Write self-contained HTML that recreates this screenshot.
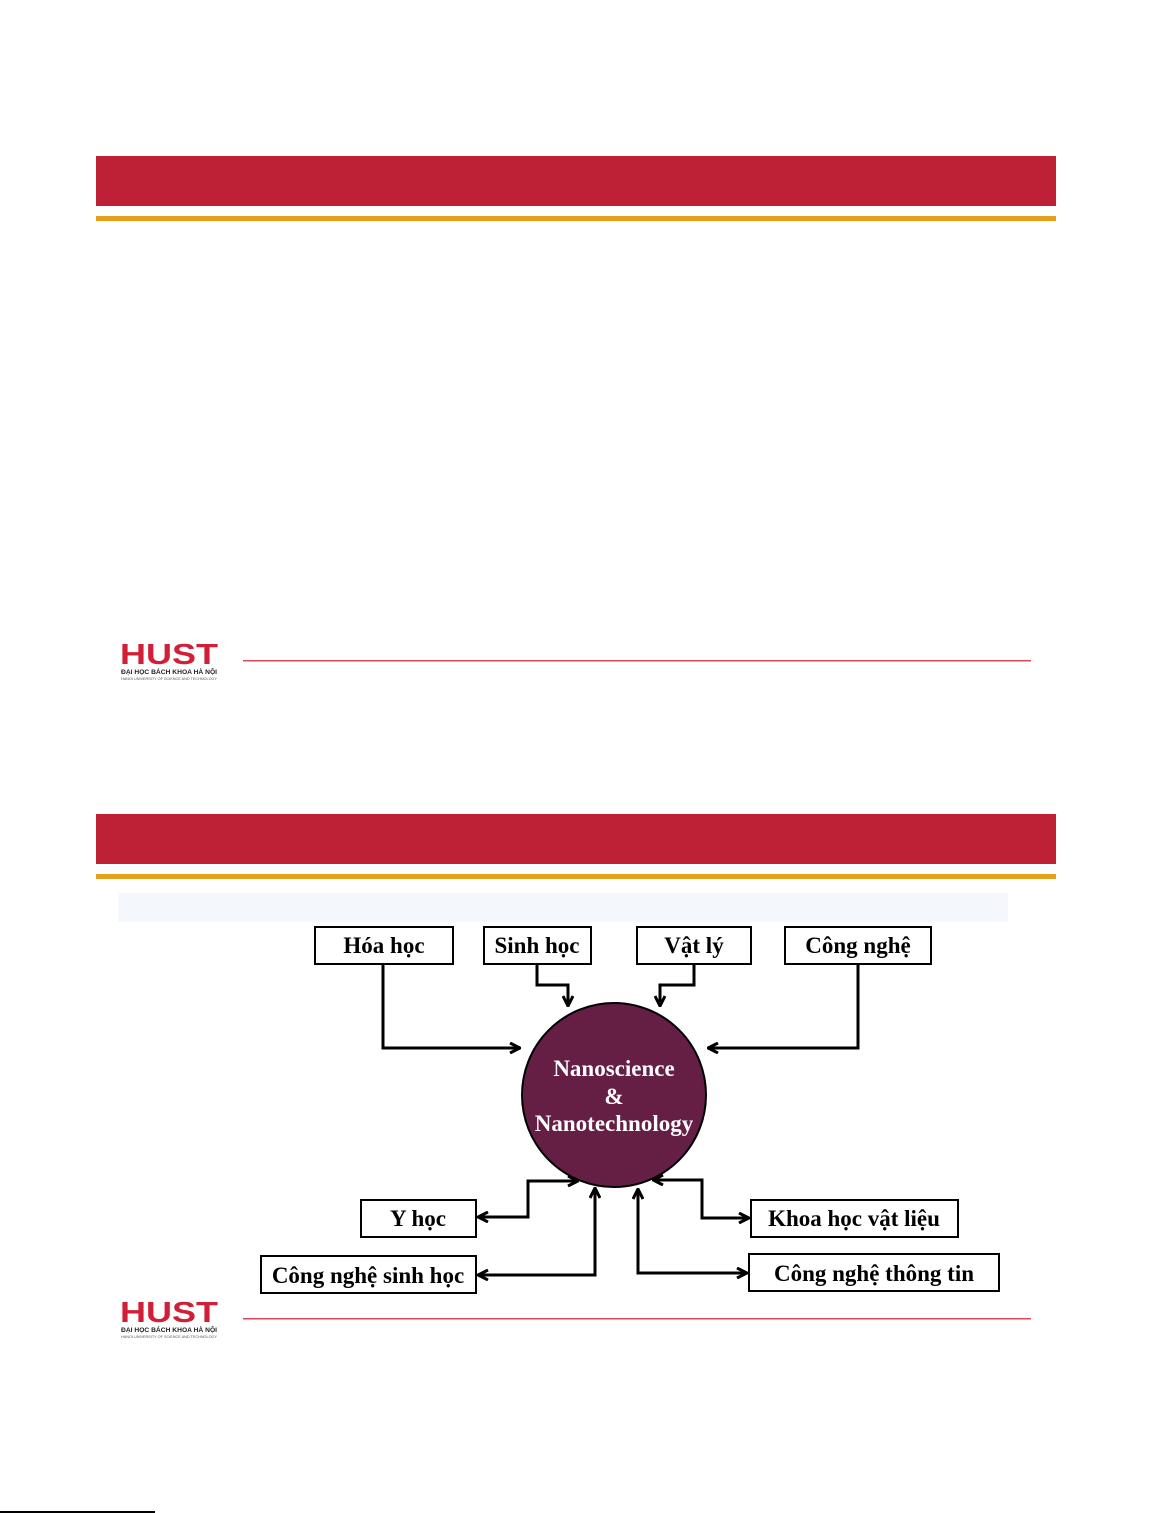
<!DOCTYPE html>
<html><head><meta charset="utf-8"><style>
html,body{margin:0;padding:0;background:#fff;}
svg{display:block;}
text{font-family:"Liberation Serif","DejaVu Serif",serif;font-weight:bold;}
</style></head><body>
<svg width="1153" height="1513" viewBox="0 0 1153 1513" xmlns="http://www.w3.org/2000/svg">
<defs>
<marker id="a" viewBox="0 0 12 12" refX="11" refY="6" markerWidth="12" markerHeight="12" markerUnits="userSpaceOnUse" orient="auto-start-reverse">
<path d="M1,1 L11,6 L1,11" fill="none" stroke="#000" stroke-width="3"/>
</marker>
</defs>
<rect x="96" y="156" width="960" height="50" fill="#be2035"/>
<rect x="96" y="216" width="960" height="5" fill="#e6a01c"/>
<g>
<text x="120" y="664" font-size="29" font-weight="900" fill="#d01f36" textLength="98" lengthAdjust="spacingAndGlyphs" style="font-family:'Liberation Sans',sans-serif">HUST</text>
<text x="121" y="674" font-size="6" fill="#222" textLength="96" lengthAdjust="spacingAndGlyphs" style="font-family:'Liberation Sans',sans-serif">ĐẠI HỌC BÁCH KHOA HÀ NỘI</text>
<text x="121" y="680" font-size="3.5" fill="#555" textLength="96" lengthAdjust="spacingAndGlyphs" style="font-family:'Liberation Sans',sans-serif;font-weight:normal">HANOI UNIVERSITY OF SCIENCE AND TECHNOLOGY</text>
</g>
<rect x="243" y="660" width="788" height="1.5" fill="#d9485c"/>
<rect x="96" y="814" width="960" height="50" fill="#be2035"/>
<rect x="96" y="874" width="960" height="5" fill="#e6a01c"/>
<rect x="118" y="893" width="890" height="29" fill="#f4f7fb"/>
<g>
<text x="120" y="1322" font-size="29" font-weight="900" fill="#d01f36" textLength="98" lengthAdjust="spacingAndGlyphs" style="font-family:'Liberation Sans',sans-serif">HUST</text>
<text x="121" y="1332" font-size="6" fill="#222" textLength="96" lengthAdjust="spacingAndGlyphs" style="font-family:'Liberation Sans',sans-serif">ĐẠI HỌC BÁCH KHOA HÀ NỘI</text>
<text x="121" y="1338" font-size="3.5" fill="#555" textLength="96" lengthAdjust="spacingAndGlyphs" style="font-family:'Liberation Sans',sans-serif;font-weight:normal">HANOI UNIVERSITY OF SCIENCE AND TECHNOLOGY</text>
</g>
<rect x="243" y="1318" width="788" height="1.5" fill="#d9485c"/>

<circle cx="614" cy="1095" r="92" fill="#651f45" stroke="#000" stroke-width="2"/>
<text x="614" y="1076" font-size="23" fill="#fff" text-anchor="middle">Nanoscience</text>
<text x="614" y="1104" font-size="23" fill="#fff" text-anchor="middle">&amp;</text>
<text x="614" y="1131" font-size="23" fill="#fff" text-anchor="middle">Nanotechnology</text>

<g fill="#fff" stroke="#000" stroke-width="2">
<rect x="315" y="927" width="138" height="37"/>
<rect x="484" y="927" width="107" height="37"/>
<rect x="637" y="927" width="114" height="37"/>
<rect x="785" y="927" width="146" height="37"/>
<rect x="361" y="1200" width="115" height="37"/>
<rect x="261" y="1256" width="215" height="37"/>
<rect x="751" y="1200" width="207" height="37"/>
<rect x="749" y="1254" width="250" height="37"/>
</g>
<g font-size="23" fill="#000" text-anchor="middle">
<text x="384" y="953">Hóa học</text>
<text x="537" y="953">Sinh học</text>
<text x="694" y="953">Vật lý</text>
<text x="858" y="953">Công nghệ</text>
<text x="418" y="1226">Y học</text>
<text x="368" y="1283">Công nghệ sinh học</text>
<text x="854" y="1226">Khoa học vật liệu</text>
<text x="874" y="1281">Công nghệ thông tin</text>
</g>
<g fill="none" stroke="#000" stroke-width="3">
<polyline points="383,964 383,1048 520,1048" marker-end="url(#a)"/>
<polyline points="537,964 537,985 568,985 568,1006" marker-end="url(#a)"/>
<polyline points="694,964 694,985 660,985 660,1006" marker-end="url(#a)"/>
<polyline points="858,964 858,1048 708,1048" marker-end="url(#a)"/>
<polyline points="478,1217 528,1217 528,1181 578,1181" marker-start="url(#a)" marker-end="url(#a)"/>
<polyline points="478,1275 595,1275 595,1188" marker-start="url(#a)" marker-end="url(#a)"/>
<polyline points="653,1180 702,1180 702,1218 749,1218" marker-start="url(#a)" marker-end="url(#a)"/>
<polyline points="638,1189 638,1273 747,1273" marker-start="url(#a)" marker-end="url(#a)"/>
</g>
<rect x="0" y="1511" width="155" height="2" fill="#000"/>
</svg>
</body></html>
